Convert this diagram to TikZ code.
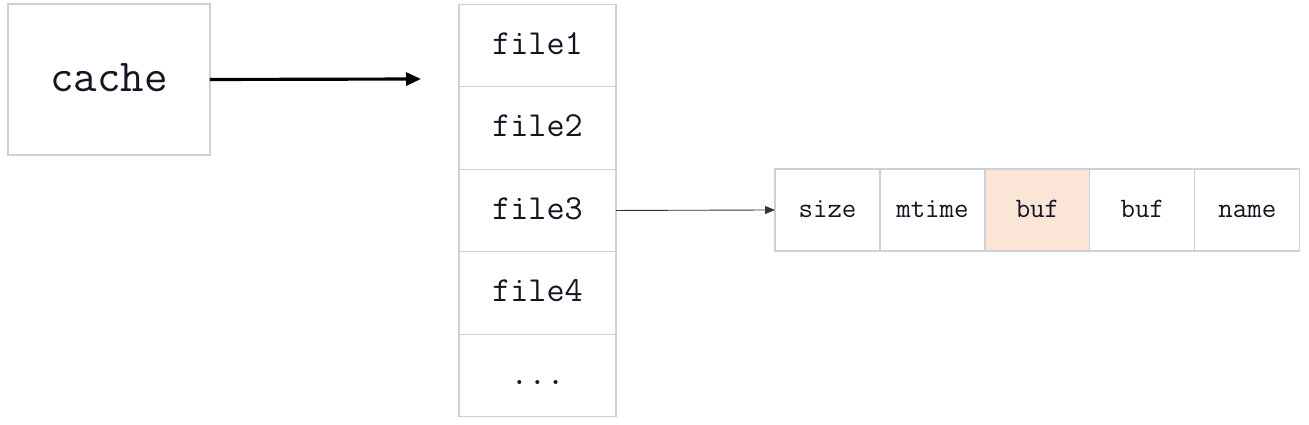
\documentclass[tikz,border=0pt]{standalone}
\usetikzlibrary{positioning,arrows.meta}
\definecolor{boxgray}{RGB}{205, 208, 212}
\definecolor{bufpeach}{RGB}{251, 229, 214}
\definecolor{txtdark}{RGB}{20, 20, 35}
\tikzset{
  cell/.style={draw=boxgray, line width=0.6pt, fill=white, inner sep=0pt, outer sep=0pt,
    text=txtdark, text depth=0pt},
  filebox/.style={cell, minimum width=3.14cm, minimum height=1.65cm, text height=10pt,
    font=\ttfamily\fontsize{20}{24}\selectfont},
  fieldbox/.style={cell, minimum width=2.1cm, minimum height=1.64cm, text height=8pt,
    font=\ttfamily\fontsize{16}{19}\selectfont},
}

\begin{document}
\begin{tikzpicture}[x=0.02cm, y=-0.02cm]
    % Tamanho da figura
    \useasboundingbox (0,0) rectangle (1309,425);

    % Caixa do cache
    \node[cell, minimum width=4.04cm, minimum height=3.02cm, text height=14pt,
          font=\ttfamily\fontsize{26}{30}\selectfont] (cache) at (109,79.5) {cache};

    % Coluna dos arquivos
    \node[filebox] (f1) at (537.5,45.5) {file1};
    \node[filebox, below=0pt of f1] (f2) {file2};
    \node[filebox, below=0pt of f2] (f3) {file3};
    \node[filebox, below=0pt of f3] (f4) {file4};
    \node[filebox, below=0pt of f4] (fmore) {...};

    % Campos de um arquivo
    \node[fieldbox] (size) at (827.5,210) {size};
    \node[fieldbox, right=0pt of size] (mtime) {mtime};
    \node[fieldbox, fill=bufpeach, right=0pt of mtime] (bufa) {buf};
    \node[fieldbox, right=0pt of bufa] (bufb) {buf};
    \node[fieldbox, right=0pt of bufb] (name) {name};

    % Setas
    \coordinate (cachetip) at (421,79);
    \draw[line width=1.8pt, -{Triangle[length=0.3cm,width=0.26cm]}] (cache.east) -- (cachetip);
    \draw[line width=0.5pt, black!80, -{Triangle[length=0.2cm,width=0.16cm]}] (f3.east) -- (size.west);
\end{tikzpicture}
\end{document}
